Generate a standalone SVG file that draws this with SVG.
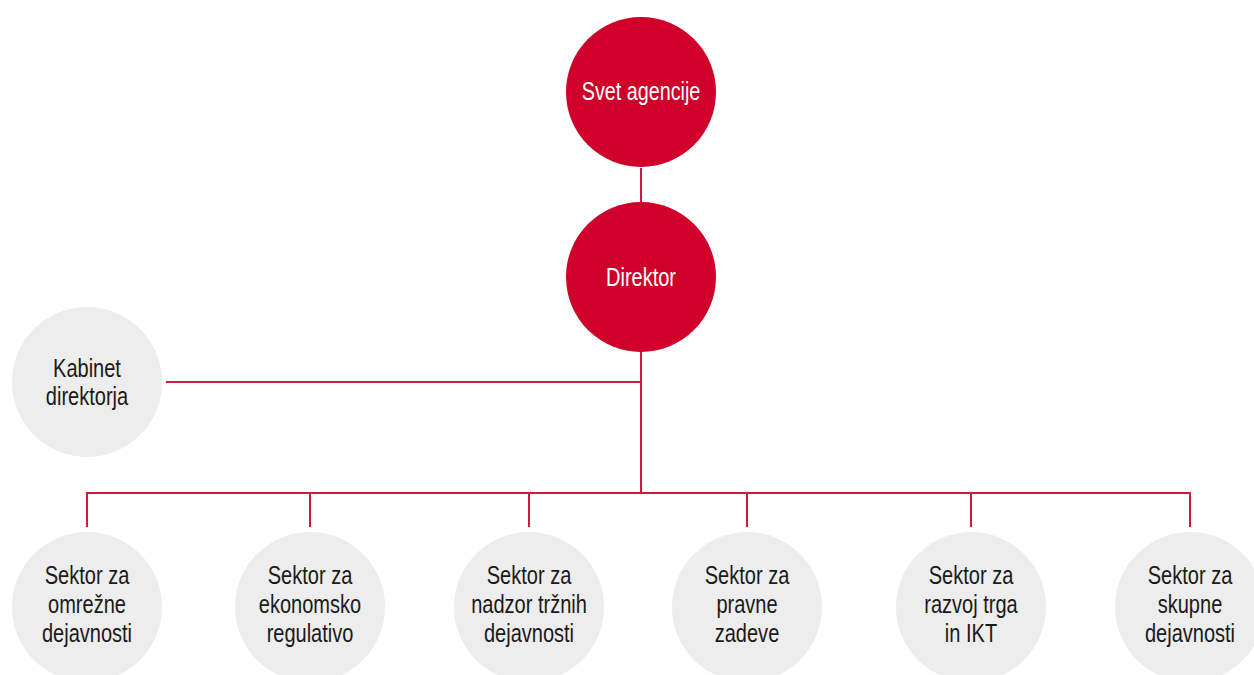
<svg xmlns="http://www.w3.org/2000/svg" width="1254" height="675" viewBox="0 0 1254 675">
<style>
.red{fill:#CF0029}
.grey{fill:#EDEDED}
.t{font-family:"Liberation Sans",Arial,sans-serif;font-size:26px;text-anchor:middle}
.w{fill:#FFFFFF}
.d{fill:#1A1A1A}
.c{stroke:#D3173F;stroke-width:2;fill:none}
</style>
<rect width="1254" height="675" fill="#FFFFFF"/>
<g id="connectors">
<line class="c" x1="641" y1="168" x2="641" y2="202"/>
<line class="c" x1="641" y1="352" x2="641" y2="493"/>
<line class="c" x1="166" y1="382" x2="641" y2="382"/>
<polyline class="c" points="87,527 87,493 1190,493 1190,527"/>
<line class="c" x1="310" y1="493" x2="310" y2="527"/>
<line class="c" x1="529" y1="493" x2="529" y2="527"/>
<line class="c" x1="747" y1="493" x2="747" y2="527"/>
<line class="c" x1="971" y1="493" x2="971" y2="527"/>
</g>
<g id="svet">
<circle class="red" cx="641" cy="92" r="75"/>
<text class="t w" transform="translate(641,100) scale(0.76,1)">Svet agencije</text>
</g>
<g id="direktor">
<circle class="red" cx="641" cy="277" r="75"/>
<text class="t w" transform="translate(641,286) scale(0.77,1)">Direktor</text>
</g>
<g id="kabinet">
<circle class="grey" cx="87" cy="382" r="75"/>
<text class="t d" transform="translate(87,377) scale(0.77,1)"><tspan x="0" y="0">Kabinet</tspan><tspan x="0" y="28">direktorja</tspan></text>
</g>
<g id="s1">
<circle class="grey" cx="87" cy="607" r="75"/>
<text class="t d" transform="translate(87,584) scale(0.77,1)"><tspan x="0" y="0">Sektor za</tspan><tspan x="0" y="29">omrežne</tspan><tspan x="0" y="58">dejavnosti</tspan></text>
</g>
<g id="s2">
<circle class="grey" cx="310" cy="607" r="75"/>
<text class="t d" transform="translate(310,584) scale(0.77,1)"><tspan x="0" y="0">Sektor za</tspan><tspan x="0" y="29">ekonomsko</tspan><tspan x="0" y="58">regulativo</tspan></text>
</g>
<g id="s3">
<circle class="grey" cx="529" cy="607" r="75"/>
<text class="t d" transform="translate(529,584) scale(0.77,1)"><tspan x="0" y="0">Sektor za</tspan><tspan x="0" y="29">nadzor tržnih</tspan><tspan x="0" y="58">dejavnosti</tspan></text>
</g>
<g id="s4">
<circle class="grey" cx="747" cy="607" r="75"/>
<text class="t d" transform="translate(747,584) scale(0.77,1)"><tspan x="0" y="0">Sektor za</tspan><tspan x="0" y="29">pravne</tspan><tspan x="0" y="58">zadeve</tspan></text>
</g>
<g id="s5">
<circle class="grey" cx="971" cy="607" r="75"/>
<text class="t d" transform="translate(971,584) scale(0.77,1)"><tspan x="0" y="0">Sektor za</tspan><tspan x="0" y="29">razvoj trga</tspan><tspan x="0" y="58">in IKT</tspan></text>
</g>
<g id="s6">
<circle class="grey" cx="1190" cy="607" r="75"/>
<text class="t d" transform="translate(1190,584) scale(0.77,1)"><tspan x="0" y="0">Sektor za</tspan><tspan x="0" y="29">skupne</tspan><tspan x="0" y="58">dejavnosti</tspan></text>
</g>
</svg>
